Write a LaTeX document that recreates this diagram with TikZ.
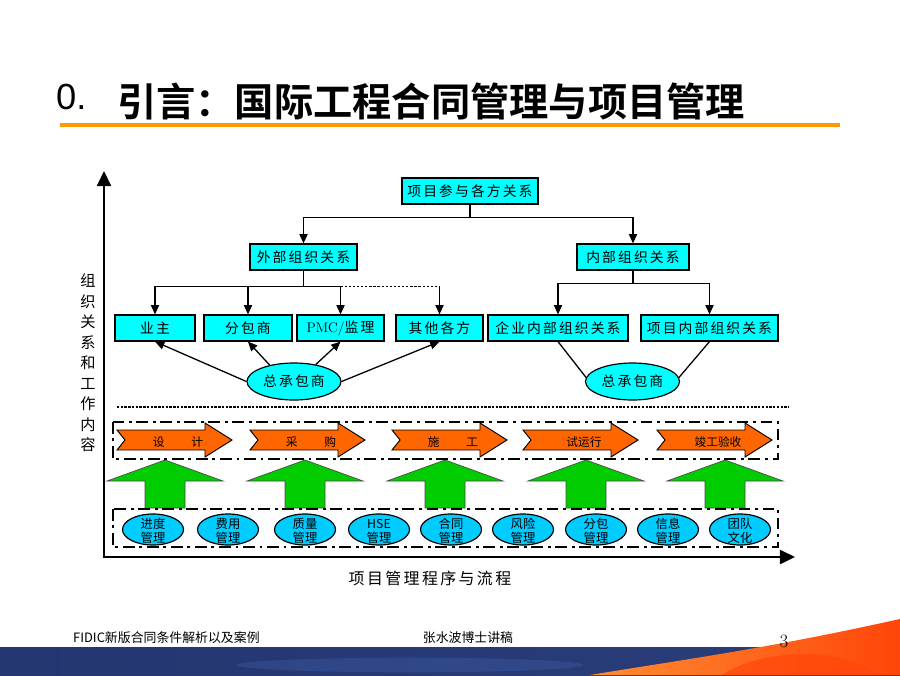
\documentclass[tikz,border=0pt]{standalone}
\usepackage{fontspec}
\newfontfamily\cjk[LetterSpace=15]{Noto Sans CJK SC}
\newfontfamily\cjkplain{Noto Sans CJK SC}
\newfontfamily\titlefont{Noto Sans CJK SC Bold}
\newfontfamily\arial{Liberation Sans}
\usetikzlibrary{calc}
\usetikzlibrary{positioning}
\usetikzlibrary{shapes,arrows.meta}

\definecolor{boxcyan}{RGB}{0,255,255}
\definecolor{mgmtblue}{RGB}{0,204,255}
\definecolor{steporange}{RGB}{255,102,0}
\definecolor{upgreen}{RGB}{0,204,0}
\definecolor{lineorange}{RGB}{255,153,0}
\definecolor{bandnavy}{RGB}{36,54,112}
\definecolor{bandblue}{RGB}{70,105,180}
\definecolor{swooshlight}{RGB}{255,140,50}
\definecolor{swooshdark}{RGB}{255,70,10}

\begin{document}
\begin{tikzpicture}[x=0.03cm, y=-0.03cm,
  box/.style={draw, fill=boxcyan, line width=1pt, inner sep=0pt, minimum width=#1*0.03cm, minimum height=26*0.03cm, font=\cjk\fontsize{11.8}{14}\selectfont},
  gc/.style={ellipse, draw, fill=boxcyan, line width=1pt, inner sep=0pt, minimum width=94*0.03cm, minimum height=37*0.03cm, font=\cjk\fontsize{11.8}{14}\selectfont},
  link/.style={line width=1.1pt},
  arr/.style={-{Triangle[length=8pt,width=7pt]}},
  dashframe/.style={line width=2pt, dash pattern=on 10pt off 4pt on 2.5pt off 4pt},
  stepshape/.style={draw, fill=steporange, line width=0.8pt},
  steptext/.style={inner sep=0pt, font=\cjkplain\fontsize{10}{12}\selectfont},
  upshape/.style={draw=black!70, fill=upgreen, line width=0.6pt},
  mgmt/.style={ellipse, draw, fill=mgmtblue, line width=1pt, inner sep=0pt, minimum width=61*0.03cm, minimum height=31*0.03cm},
  mgmttext/.style={align=center, inner sep=0pt, font=\cjkplain\fontsize{10.5}{12}\selectfont},
  axisline/.style={line width=2.5pt, line join=miter, {Triangle[length=13pt,width=12pt]}-{Triangle[length=13pt,width=12pt]}}]

\useasboundingbox (0,0) rectangle (900,675);
\fill[white] (0,0) rectangle (900,675);

\node[anchor=base west, inner sep=0pt] (num) at (56,110) {\arial\fontsize{31}{31}\selectfont 0.};
\node[anchor=base west, inner sep=0pt] (title) at (117,116) {\titlefont\fontsize{33.5}{34}\selectfont 引言：国际工程合同管理与项目管理};
\draw[lineorange, line width=3.4pt] (60,125) -- (840,125);

\node[box=136] (top) at (470,191) {项目参与各方关系};
\node[box=107] (ext) at (303.5,257) {外部组织关系};
\node[box=112] (int) at (633,257) {内部组织关系};

\node[box=80] (owner) at (155,328) {业主};
\node[box=88] (sub) at (248,328) {分包商};
\node[box=87] (pmc) at (340.5,328) {{\rmfamily PMC/}监理};
\node[box=87] (other) at (439.5,328) {其他各方};
\node[box=140] (ent) at (558,328) {企业内部组织关系};
\node[box=137] (proj) at (709.5,328) {项目内部组织关系};

\node[gc] (gcA) at (294,381.5) {总承包商};
\node[gc] (gcB) at (632.5,381.5) {总承包商};

\draw[link] (top.south) -- ++(0,13) coordinate (tj);
\draw[link, arr] (tj) -| (ext.north);
\draw[link, arr] (tj) -| (int.north);

\draw[link] (ext.south) -- ++(0,16) coordinate (ej);
\draw[link, arr] (ej) -| (owner.north);
\draw[link, arr] (ej) -| (sub.north);
\draw[link, arr] (ej) -| (pmc.north);
\draw[line width=1.5pt, dash pattern=on 2pt off 1.5pt] (pmc.north |- ej) -- (other.north |- ej);
\draw[link, arr] (other.north |- ej) -- (other.north);

\draw[link] (int.south) -- ++(0,13) coordinate (ij);
\draw[link, arr] (ij) -| (ent.north);
\draw[link, arr] (ij) -| (proj.north);

\draw[link, arr] (gcA.west) -- (owner.south);
\draw[link, arr] (gcA.146) -- (sub.south);
\draw[link, arr] (gcA.38) -- (pmc.south);
\draw[link, arr] (gcA.east) -- (other.south);
\draw[link] (ent.south) -- (gcB.175);
\draw[link] (proj.south) -- (gcB.5);

\draw[line width=1.6pt, dash pattern=on 2pt off 1.2pt] (117,407) -- (789,407);

\foreach \x/\lbl [count=\i] in {117/{设\hspace{2.3em}计}, 250/{采\hspace{2.3em}购}, 392/{施\hspace{2.3em}工}, 523/试运行, 657/竣工验收} {
  \draw[stepshape] (\x,430) -- ++(88,0) -- ++(0,-7) -- ++(27,17) -- ++(-27,17) -- ++(0,-7) -- ++(-88,0) -- ++(8,-10) -- cycle;
  \node[steptext] (s\i) at (\x+61,442) {\lbl};
}

\foreach \x [count=\i] in {165,305,445,586,725}
  \draw[upshape] (\x,460) -- ++(58,21) -- ++(-38,0) -- ++(0,27) -- ++(-40,0) -- ++(0,-27) -- ++(-38,0) -- cycle;

\foreach \x/\a/\b [count=\i] in {153/进度/管理, 228/费用/管理, 305/质量/管理, 379/HSE/管理, 451/合同/管理, 523/风险/管理, 596/分包/管理, 668/信息/管理, 740/团队/文化} {
  \node[mgmt] (m\i) at (\x,529.5) {};
  \node[mgmttext] (mt\i) at (\x,531) {\a\\\b};
}

\draw[dashframe] (113,422) rectangle (778,459);
\draw[dashframe] (113,509) rectangle (778,547);

\coordinate (ytip) at (104,171);
\coordinate (orig) at (104,557);
\coordinate (xtip) at (795,557);
\draw[axisline] (ytip) -- (orig) -- (xtip);

\node[align=center, inner sep=0pt, font=\cjkplain\fontsize{13}{17.5}\selectfont] (ylab) at (88,363) {组\\织\\关\\系\\和\\工\\作\\内\\容};
\node[inner sep=0pt, font=\cjk\fontsize{13.6}{16}\selectfont] (xlab) at (430,578) {项目管理程序与流程};

\shade[left color=bandnavy, right color=bandnavy!85!bandblue] (0,647) rectangle (900,675);
\fill[bandblue, opacity=0.3] (410,665) ellipse [x radius=5.2cm, y radius=0.22cm];
\shade[left color=swooshlight, right color=swooshdark] (590,675) .. controls (680,660) and (760,650) .. (900,619) -- (900,675) -- cycle;
\fill[swooshdark, opacity=0.7] (722,675) .. controls (750,655) and (830,640) .. (880,675) -- cycle;

\node[anchor=west, inner sep=0pt, font=\cjkplain\fontsize{11}{13}\selectfont] (foot1) at (73,638) {FIDIC新版合同条件解析以及案例};
\node[inner sep=0pt, font=\cjkplain\fontsize{11}{13}\selectfont] (foot2) at (468,638) {张水波博士讲稿};
\node[inner sep=0pt, font=\fontsize{16}{16}\selectfont] (page) at (784,641) {3};

\end{tikzpicture}
\end{document}
